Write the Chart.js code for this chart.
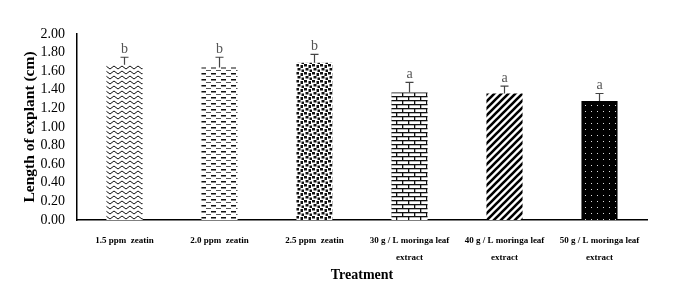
<!DOCTYPE html>
<html>
<head>
<meta charset="utf-8">
<script src="https://cdn.jsdelivr.net/npm/chart.js@4/dist/chart.umd.min.js"></script>
<style>
  html, body { margin: 0; padding: 0; background: #fff; }
  #wrap { width: 682px; height: 299px; }
</style>
</head>
<body>
<div id="wrap"><canvas id="grafico" width="682" height="299"></canvas></div>
<script>
const tratamentos = [
  '1.5 ppm  zeatin',
  '2.0 ppm  zeatin',
  '2.5 ppm  zeatin',
  ['30 g / L moringa leaf', 'extract'],
  ['40 g / L moringa leaf', 'extract'],
  ['50 g / L moringa leaf', 'extract']
];
const comprimentos = [1.67, 1.64, 1.69, 1.37, 1.36, 1.28];
const errosPadrao = [0.08, 0.11, 0.09, 0.11, 0.08, 0.08];
const letras = ['b', 'b', 'b', 'a', 'a', 'a'];
const ticksY = [0, 0.2, 0.4, 0.6, 0.8, 1.0, 1.2, 1.4, 1.6, 1.8, 2.0];

// padroes de preenchimento das barras
function criarPadrao(tipo) {
  const c = document.createElement('canvas');
  const g = c.getContext('2d');
  if (tipo === 'onda') {
    c.width = 8; c.height = 5;
    g.fillStyle = '#fff'; g.fillRect(0, 0, 8, 5);
    g.strokeStyle = '#111'; g.lineWidth = 1;
    g.beginPath();
    g.moveTo(0, 2.5);
    g.quadraticCurveTo(2, -0.5, 4, 2.5);
    g.quadraticCurveTo(6, 5.5, 8, 2.5);
    g.stroke();
  } else if (tipo === 'tracos') {
    c.width = 10; c.height = 6;
    g.fillStyle = '#fff'; g.fillRect(0, 0, 10, 6);
    g.fillStyle = '#111';
    g.fillRect(1, 1, 5, 1.5);
    g.fillStyle = '#555';
    g.fillRect(6, 4, 4, 1);
    g.fillRect(0, 4, 1, 1);
  } else if (tipo === 'pontos') {
    c.width = 8; c.height = 8;
    g.fillStyle = '#fff'; g.fillRect(0, 0, 8, 8);
    g.fillStyle = '#111';
    g.fillRect(0, 0, 3, 2.5);
    g.fillRect(4.5, 1, 2.5, 3);
    g.fillRect(1.5, 4, 3, 2.5);
    g.fillRect(5.5, 5.5, 2.5, 2.5);
  } else if (tipo === 'tijolo') {
    c.width = 12; c.height = 8;
    g.fillStyle = '#fff'; g.fillRect(0, 0, 12, 8);
    g.fillStyle = '#111';
    g.fillRect(0, 0, 12, 1.3);
    g.fillRect(0, 4, 12, 1.3);
    g.fillRect(0, 0, 1.3, 4);
    g.fillRect(6, 4, 1.3, 4);
  } else if (tipo === 'diagonal') {
    c.width = 7; c.height = 7;
    g.fillStyle = '#fff'; g.fillRect(0, 0, 7, 7);
    g.strokeStyle = '#000'; g.lineWidth = 2.6;
    g.beginPath();
    g.moveTo(-1, 8); g.lineTo(8, -1);
    g.moveTo(-4, 4); g.lineTo(4, -4);
    g.moveTo(3, 11); g.lineTo(11, 3);
    g.stroke();
  } else {
    c.width = 6; c.height = 6;
    g.fillStyle = '#000'; g.fillRect(0, 0, 6, 6);
    g.fillStyle = '#ddd';
    g.fillRect(3, 3, 1, 1);
  }
  return g.createPattern(c, 'repeat');
}

const padroes = ['onda', 'tracos', 'pontos', 'tijolo', 'diagonal', 'preto'].map(criarPadrao);

const barrasDeErro = {
  id: 'barrasDeErro',
  afterDatasetsDraw(chart) {
    const ctx = chart.ctx;
    const escalaY = chart.scales.y;
    const meta = chart.getDatasetMeta(0);
    ctx.save();
    meta.data.forEach((barra, i) => {
      const topo = escalaY.getPixelForValue(comprimentos[i] + errosPadrao[i]);
      ctx.strokeStyle = '#444';
      ctx.lineWidth = 1.2;
      ctx.beginPath();
      ctx.moveTo(barra.x, barra.y);
      ctx.lineTo(barra.x, topo);
      ctx.moveTo(barra.x - 4, topo);
      ctx.lineTo(barra.x + 4, topo);
      ctx.stroke();
      ctx.fillStyle = '#555';
      ctx.font = '14px "Liberation Serif"';
      ctx.textAlign = 'center';
      ctx.textBaseline = 'bottom';
      ctx.fillText(letras[i], barra.x, topo - 1);
    });
    ctx.restore();
  }
};

new Chart(document.getElementById('grafico'), {
  type: 'bar',
  data: {
    labels: tratamentos,
    datasets: [{
      data: comprimentos,
      backgroundColor: padroes,
      borderWidth: 0,
      categoryPercentage: 1,
      barPercentage: 0.38
    }]
  },
  options: {
    responsive: false,
    animation: false,
    layout: { padding: { top: 34, right: 35, left: 17, bottom: 11 } },
    plugins: {
      legend: { display: false },
      tooltip: { enabled: false }
    },
    scales: {
      x: {
        grid: { display: false, drawTicks: false },
        border: { color: '#000', width: 1.5 },
        ticks: {
          color: '#000',
          font: { family: 'Liberation Serif', size: 9, weight: 'bold', lineHeight: 1.9 },
          padding: 12,
          maxRotation: 0,
          autoSkip: false
        },
        title: {
          display: true,
          text: 'Treatment',
          color: '#000',
          font: { family: 'Liberation Serif', size: 14, weight: 'bold' },
          padding: { top: 0 }
        },
        afterFit(s) { s.height = 68; }
      },
      y: {
        min: 0,
        max: 2,
        afterBuildTicks(s) { s.ticks = ticksY.map(v => ({ value: v })); },
        grid: { display: false, drawTicks: false },
        border: { color: '#000', width: 1.5 },
        ticks: {
          color: '#000',
          font: { family: 'Liberation Serif', size: 14 },
          padding: 12,
          autoSkip: false,
          callback: v => Number(v).toFixed(2)
        },
        title: {
          display: true,
          text: 'Length of explant (cm)',
          color: '#000',
          font: { family: 'Liberation Serif', size: 15.5, weight: 'bold' }
        },
        afterFit(s) { s.width = 60; }
      }
    }
  },
  plugins: [barrasDeErro]
});
</script>
</body>
</html>
